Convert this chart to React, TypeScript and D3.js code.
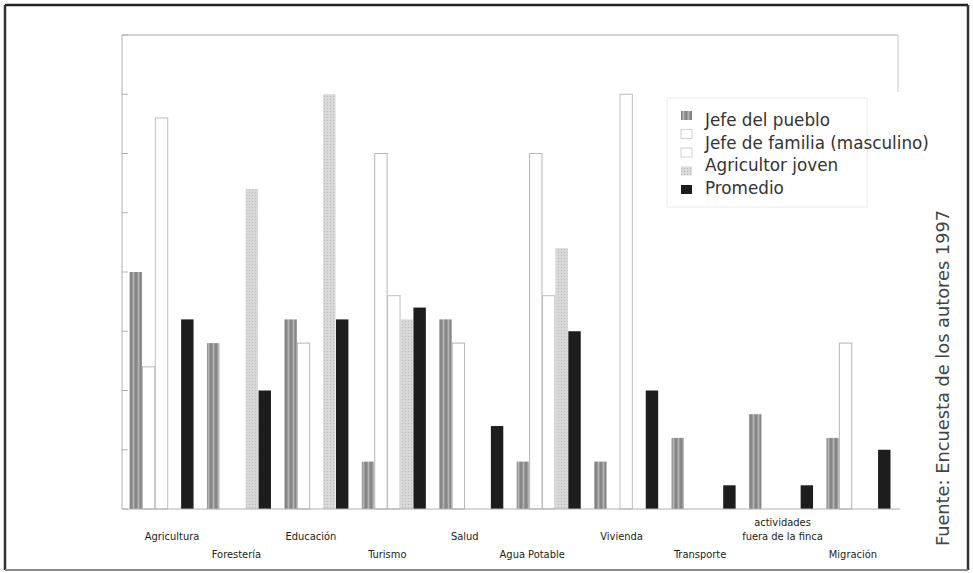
import React from "react";
import * as d3 from "d3";

const categories = [
  "Agricultura",
  "Forestería",
  "Educación",
  "Turismo",
  "Salud",
  "Agua Potable",
  "Vivienda",
  "Transporte",
  "actividades\nfuera de la finca",
  "Migración",
];

const seriesNames = [
  "Jefe del pueblo",
  "Jefe de familia (masculino)",
  "",
  "Agricultor joven",
  "Promedio",
];

const jefePueblo = [4.0, 2.8, 3.2, 0.8, 3.2, 0.8, 0.8, 1.2, 1.6, 1.2];
const jefeFamilia = [2.4, 0, 2.8, 6.0, 2.8, 6.0, 0, 0, 0, 2.8];
const sinNombre = [6.6, 0, 0, 3.6, 0, 3.6, 7.0, 0, 0, 0];
const agricultorJoven = [0, 5.4, 7.0, 3.2, 0, 4.4, 0, 0, 0, 0];
const promedio = [3.2, 2.0, 3.2, 3.4, 1.4, 3.0, 2.0, 0.4, 0.4, 1.0];

const seriesValues = [jefePueblo, jefeFamilia, sinNombre, agricultorJoven, promedio];

const yTicks = [0, 1, 2, 3, 4, 5, 6, 7, 8];

// layout (not data)
const W = 973;
const H = 573;
const plotLeft = 122;
const plotTop = 35;
const plotBottom = 509;
const labelDx = [13, 0, -3, -4, -4, -14, -2, -1, 4, -3];

const fills = ["url(#stripe)", "#ffffff", "#ffffff", "url(#stipple)", "#1d1d1d"];
const strokes = ["none", "#b5b5b5", "#bdbdbd", "none", "none"];

export default function App() {
  const x = d3
    .scaleBand<string>()
    .domain(categories)
    .range([129, 129 + 77.44 * categories.length])
    .paddingInner(0)
    .paddingOuter(0);
  const slot = d3
    .scaleBand<number>()
    .domain([0, 1, 2, 3, 4, 5])
    .range([0, x.bandwidth()]);
  const y = d3.scaleLinear().domain([0, 8]).range([plotBottom, plotTop]);

  const font = "'DejaVu Sans', sans-serif";
  const labelFont = "'DejaVu Sans Condensed', 'DejaVu Sans', sans-serif";

  return (
    <svg
      width={W}
      height={H}
      style={{ position: "absolute", left: 0, top: 0, background: "#fff" }}
    >
      <defs>
        <pattern id="stripe" width="5" height="8" patternUnits="userSpaceOnUse">
          <rect width="5" height="8" fill="#999" />
          <rect x="0.5" width="1" height="8" fill="#747474" />
          <rect x="3" width="1" height="8" fill="#b5b5b5" />
        </pattern>
        <pattern id="stipple" width="3" height="3" patternUnits="userSpaceOnUse">
          <rect width="3" height="3" fill="#d6d6d6" />
          <rect x="0" y="0" width="1" height="1" fill="#bdbdbd" />
          <rect x="1.5" y="1.5" width="1" height="1" fill="#e4e4e4" />
        </pattern>
      </defs>

      {/* outer frame */}
      <rect x={0} y={0} width={W} height={H} fill="#fff" />
      <line x1={5} y1={5} x2={968} y2={5} stroke="#222" strokeWidth={2.5} />
      <line x1={5} y1={5} x2={5} y2={570} stroke="#333" strokeWidth={2.5} />
      <line x1={968} y1={5} x2={968} y2={570} stroke="#333" strokeWidth={2.5} />
      <line x1={5} y1={570} x2={968} y2={570} stroke="#8a8a8a" strokeWidth={2} />

      {/* plot frame */}
      <line x1={plotLeft} y1={plotTop} x2={898} y2={plotTop} stroke="#a8a8a8" strokeWidth={1.2} />
      <line x1={898} y1={plotTop} x2={898} y2={92} stroke="#c8c8c8" strokeWidth={1} />
      <line x1={plotLeft} y1={plotTop} x2={plotLeft} y2={plotBottom} stroke="#b0b0b0" strokeWidth={1} />
      {yTicks.map((t) => (
        <line
          key={t}
          x1={plotLeft}
          x2={plotLeft + 6}
          y1={y(t)}
          y2={y(t)}
          stroke="#b0b0b0"
          strokeWidth={1}
        />
      ))}

      {/* bars */}
      {seriesValues.map((vals, si) =>
        vals.map((v, ci) => {
          if (v <= 0) return null;
          const bx = (x(categories[ci]) as number) + (slot(si) as number);
          const by = y(v);
          const bw = slot.bandwidth();
          return (
            <rect
              key={`${si}-${ci}`}
              x={bx + 0.5}
              y={by}
              width={bw - 0.5}
              height={plotBottom - by}
              fill={fills[si]}
              stroke={strokes[si]}
              strokeWidth={1}
            />
          );
        })
      )}

      <line x1={plotLeft} y1={plotBottom} x2={900} y2={plotBottom} stroke="#b0b0b0" strokeWidth={1} />

      {/* category labels */}
      {categories.map((c, i) => {
        const cx = (x(c) as number) + 30 + labelDx[i];
        const lines = c.split("\n");
        const base = i % 2 === 0 ? 540 : 558;
        return (
          <text
            key={c}
            x={cx}
            y={base - (lines.length - 1) * 14}
            textAnchor="middle"
            fontFamily={labelFont}
            fontSize={11}
            fill="#222"
          >
            {lines.map((l, li) => (
              <tspan key={li} x={cx} dy={li === 0 ? 0 : 14}>
                {l}
              </tspan>
            ))}
          </text>
        );
      })}

      {/* legend */}
      <rect x={667} y={98} width={200} height={109} fill="none" stroke="#ececec" strokeWidth={1} />
      {seriesNames.map((n, i) => (
        <rect
          key={`sw${i}`}
          x={681}
          y={111 + i * 18.5}
          width={11}
          height={9}
          fill={fills[i]}
          stroke={i === 1 || i === 2 ? "#d0d0d0" : "none"}
          strokeWidth={1}
        />
      ))}
      {seriesNames
        .filter((n) => n !== "")
        .map((n, i) => (
          <text
            key={n}
            x={705}
            y={126 + i * 22.5}
            fontFamily={font}
            fontSize={16.8}
            fill="#333"
          >
            {n}
          </text>
        ))}

      {/* source */}
      <text
        transform="translate(949,378) rotate(-90)"
        textAnchor="middle"
        fontFamily={font}
        fontSize={17.8}
        fill="#444"
      >
        Fuente: Encuesta de los autores 1997
      </text>
    </svg>
  );
}
